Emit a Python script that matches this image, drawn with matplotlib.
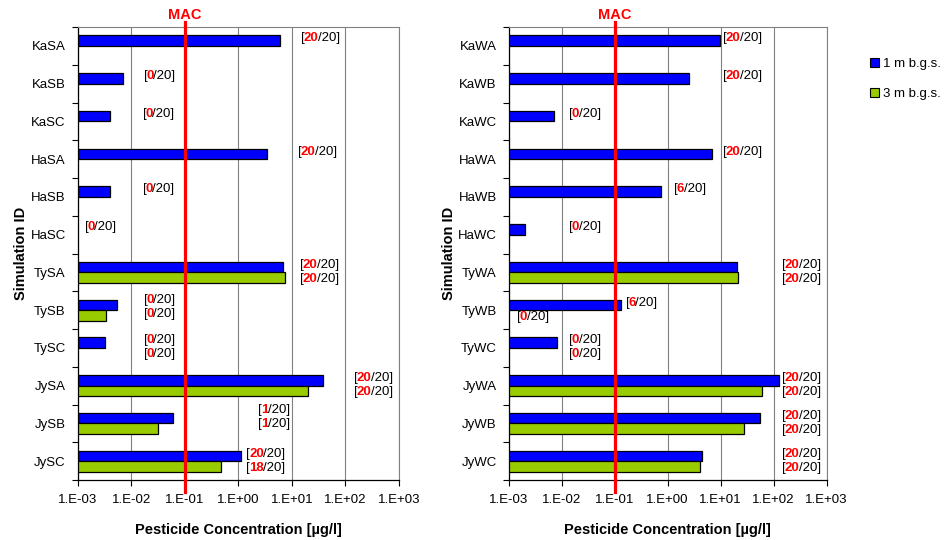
import numpy as np
import matplotlib.pyplot as plt
from matplotlib.patches import Patch
from matplotlib.transforms import blended_transform_factory

plt.rcParams['font.family'] = ['Liberation Sans', 'DejaVu Sans']

# ── Data ───────────────────────────────────────────────────────────────────
ids_s = ['KaSA', 'KaSB', 'KaSC', 'HaSA', 'HaSB', 'HaSC',
         'TySA', 'TySB', 'TySC', 'JySA', 'JySB', 'JySC']
ids_w = ['KaWA', 'KaWB', 'KaWC', 'HaWA', 'HaWB', 'HaWC',
         'TyWA', 'TyWB', 'TyWC', 'JyWA', 'JyWB', 'JyWC']

# peak concentration [µg/l]; nan = no bar
conc1_s = [5.9, 0.0071, 0.0040, 3.5, 0.0040, np.nan,
           6.9, 0.0053, 0.0032, 38, 0.061, 1.1]
conc3_s = [np.nan, np.nan, np.nan, np.nan, np.nan, np.nan,
           7.3, 0.0034, np.nan, 20, 0.031, 0.47]
conc1_w = [9.6, 2.5, 0.0072, 6.9, 0.74, 0.0020,
           20, 0.13, 0.0080, 124, 55, 4.4]
conc3_w = [np.nan, np.nan, np.nan, np.nan, np.nan, np.nan,
           21, np.nan, np.nan, 61, 27.5, 4.1]

# number of runs (out of 20) exceeding MAC; None = no label
n1_s = [20, 0, 0, 20, 0, 0, 20, 0, 0, 20, 1, 20]
n3_s = [None, None, None, None, None, None, 20, 0, 0, 20, 1, 18]
n1_w = [20, 20, 0, 20, 6, 0, 20, 6, 0, 20, 20, 20]
n3_w = [None, None, None, None, None, None, 20, 0, 0, 20, 20, 20]

MAC = 0.1

# label placement (log10 of left edge) and row shift
lab1_s = [1.17, -1.77, -1.79, 1.12, -1.79, -2.87, 1.15, -1.77, -1.77, 2.16, 0.37, 0.15]
lab3_s = lab1_s
dy_s = [0, 0, 0, 0, 0, 0, 0, -0.07, 0, 0, -0.15, 0]
lab1_w = [1.05, 1.05, -1.86, 1.05, 0.12, -1.86, 2.16, -0.79, -1.86, 2.15, 2.15, 2.15]
lab3_w = [1.05, 1.05, -1.86, 1.05, 0.12, -1.86, 2.16, -2.84, -1.86, 2.15, 2.15, 2.15]
dy_w = [0] * 12

BLUE = '#0000ff'
GREEN = '#99cc00'
FS = 9.5
FSB = 10.5


def bracket_label(ax, x, y, n):
    # "[n/20]" with the count in red bold
    t1 = ax.text(x, y, '[', ha='left', va='center', fontsize=FS)
    t2 = ax.annotate(str(n), xy=(1, 0), xycoords=t1, xytext=(-0.8, 0),
                     textcoords='offset points', ha='left', va='bottom',
                     color='red', fontweight='bold', fontsize=FS)
    ax.annotate('/20]', xy=(1, 0), xycoords=t2, xytext=(-0.3, 0),
                textcoords='offset points', ha='left', va='bottom', fontsize=FS)


def panel(ax, ids, c1, c3, n1, n3, lx1, lx3, dy):
    y = np.arange(len(ids))
    c1 = np.array(c1, float)
    c3 = np.array(c3, float)
    lo = 1e-3
    m1 = ~np.isnan(c1)
    m3 = ~np.isnan(c3)
    h = 0.28
    ax.barh(y[m1] - 0.14, c1[m1] - lo, left=lo, height=h, color=BLUE,
            edgecolor='black', linewidth=0.9, zorder=3)
    ax.barh(y[m3] + 0.14, c3[m3] - lo, left=lo, height=h, color=GREEN,
            edgecolor='black', linewidth=0.9, zorder=3)

    for i in range(len(ids)):
        bracket_label(ax, 10 ** lx1[i], i - 0.2 + dy[i], n1[i])
        if n3[i] is not None:
            bracket_label(ax, 10 ** lx3[i], i + 0.17 + dy[i], n3[i])

    ax.set_xscale('log')
    ax.set_xlim(1e-3, 1e3)
    ax.set_ylim(len(ids) - 0.5, -0.5)
    decades = 10.0 ** np.arange(-3, 4)
    ax.set_xticks(decades)
    ax.set_xticklabels([f'1.E{int(round(np.log10(d))):+03d}' for d in decades])
    ax.xaxis.set_minor_locator(plt.NullLocator())
    ax.tick_params(axis='x', labelsize=FS, length=4, width=0.8, pad=6)

    ax.set_yticks(np.arange(len(ids) + 1) - 0.5)
    ax.set_yticklabels([])
    ax.set_yticks(y, minor=True)
    ax.set_yticklabels(ids, minor=True)
    ax.tick_params(axis='y', which='major', length=4, width=0.8)
    ax.tick_params(axis='y', which='minor', length=0, labelsize=FS, pad=8.6)

    ax.grid(axis='x', color='#808080', linewidth=0.8, zorder=0)
    ax.set_axisbelow(True)
    for s in ('top', 'right'):
        ax.spines[s].set_color('#808080')
        ax.spines[s].set_linewidth(0.8)
    for s in ('left', 'bottom'):
        ax.spines[s].set_linewidth(0.9)

    # MAC line
    tr = blended_transform_factory(ax.transData, ax.transAxes)
    ax.plot([MAC, MAC], [-0.026, 1.011], color='red', linewidth=2.3,
            transform=tr, clip_on=False, zorder=5)
    ax.text(MAC, 1.011, 'MAC', transform=tr, ha='center', va='bottom',
            color='red', fontweight='bold', fontsize=FSB)

    ax.set_xlabel('Pesticide Concentration [µg/l]', fontweight='bold',
                  fontsize=FSB, labelpad=12)
    ax.set_ylabel('Simulation ID', fontweight='bold', fontsize=FSB, labelpad=1.5)


fig = plt.figure(figsize=(9.49, 5.40), dpi=100)
ax1 = fig.add_axes([0.0819, 0.111, 0.3385, 0.839])
ax2 = fig.add_axes([0.536, 0.111, 0.335, 0.839])

panel(ax1, ids_s, conc1_s, conc3_s, n1_s, n3_s, lab1_s, lab3_s, dy_s)
panel(ax2, ids_w, conc1_w, conc3_w, n1_w, n3_w, lab1_w, lab3_w, dy_w)

handles = [Patch(facecolor=BLUE, edgecolor='black', linewidth=0.8),
           Patch(facecolor=GREEN, edgecolor='black', linewidth=0.8)]
fig.legend(handles, ['1 m b.g.s.', '3 m b.g.s.'], loc='upper left',
           bbox_to_anchor=(0.904, 0.915), frameon=False, fontsize=FS,
           handlelength=0.7, handleheight=0.7, handletextpad=0.3,
           labelspacing=1.35)

fig.savefig('out.png', dpi=100)
